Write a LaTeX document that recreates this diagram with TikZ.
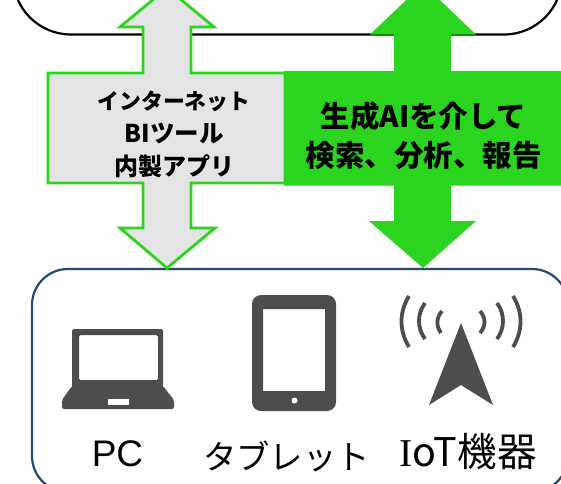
\documentclass[tikz,border=0pt]{standalone}
\usepackage{fontspec}
\setmainfont{Liberation Sans}
\newfontfamily\jp{Noto Sans CJK JP}
\newfontfamily\serifI{Liberation Serif}
\definecolor{grn}{HTML}{2BD41F}
\definecolor{navy}{HTML}{264A6B}
\definecolor{icon}{HTML}{4D4D4D}
\definecolor{lgray}{HTML}{E4E4E4}
\tikzset{
  lbl/.style={inner sep=0pt,align=center,text=black},
  wave/.style={draw=icon,line width=3.8pt,line cap=butt},
  ico/.style={fill=icon,draw=none},
}
\begin{document}
\begin{tikzpicture}[x=1pt,y=-1pt]
\useasboundingbox (0,0) rectangle (561,483);
\clip (0,0) rectangle (561,483);
\fill[white] (0,0) rectangle (561,483);
% top box
\draw[black,line width=2.2pt,rounded corners=58pt] (13,-120) rectangle (562,34.5);
% bottom box
\draw[navy,line width=2.2pt,rounded corners=36pt] (32,269) rectangle (568,492);
% left double arrow
\draw[grn,line width=2.8pt,fill=lgray,line join=miter]
  (167,-12) -- (214,27) -- (191,27) -- (191,73) -- (285,73) -- (285,183) -- (191,183) -- (191,228)
  -- (215,228) -- (167,268) -- (120,228) -- (143,228) -- (143,183) -- (48,183) -- (48,73) -- (143,73)
  -- (143,27) -- (120,27) -- cycle;
% right double arrow
\fill[grn]
  (423,-16) -- (476,34.5) -- (451,34.5) -- (451,71) -- (561,71) -- (561,185.5) -- (451,185.5) -- (451,221)
  -- (476,221) -- (423,268) -- (369,221) -- (394,221) -- (394,185.5) -- (284,185.5) -- (284,71) -- (394,71)
  -- (394,34.5) -- (370,34.5) -- cycle;
% labels
\node[lbl,font=\jp\bfseries\fontsize{24}{33}\selectfont] (web) at (174,134) {{\fontsize{21.8}{33}\selectfont インターネット}\\{\fontsize{24.5}{33}\selectfont BIツール}\\内製アプリ};
\node[lbl,font=\jp\bfseries\fontsize{29.5}{39}\selectfont] (gen) at (423.5,136) {生成AIを介して\\検索、分析、報告};
% laptop
\fill[ico,even odd rule,rounded corners=1.5pt] (72,329) rectangle (163,390) (79,335) rectangle (158,380);
\fill[ico,rounded corners=2pt] (72,386) -- (163,386) -- (174,400) -- (174,409) -- (62,409) -- (62,400) -- cycle;
\fill[white] (108,399) rectangle (129,405);
% tablet
\fill[ico,even odd rule] [rounded corners=9pt] (252,295) rectangle (336,411) [sharp corners] (263,309) rectangle (325,391);
\fill[white] (294.5,400.5) circle (3pt);
% antenna
\fill[ico] (461,323) -- (493,405) -- (461,385) -- (429,405) -- cycle;
\draw[wave] (409,296) .. controls (399,312) and (399,331) .. (409,347);
\draw[wave] (425,303) .. controls (417,314) and (417,328) .. (425,339);
\draw[wave] (442,311) .. controls (436,318) and (436,326) .. (441,333);
\draw[wave] (513,296) .. controls (523,312) and (523,331) .. (513,347);
\draw[wave] (497,303) .. controls (505,314) and (505,328) .. (497,339);
\draw[wave] (480,311) .. controls (486,318) and (486,326) .. (480,333);
% device labels
\node[lbl,font=\fontsize{37}{37}\selectfont] (pc) at (117.5,454) {PC};
\node[lbl,font=\jp\fontsize{33.4}{34}\selectfont] (tab) at (286.5,456) {タブレット};
\node[lbl,font=\jp\fontsize{39.5}{40}\selectfont] (iot) at (468,452) {{\serifI I}oT機器};
\end{tikzpicture}
\end{document}
